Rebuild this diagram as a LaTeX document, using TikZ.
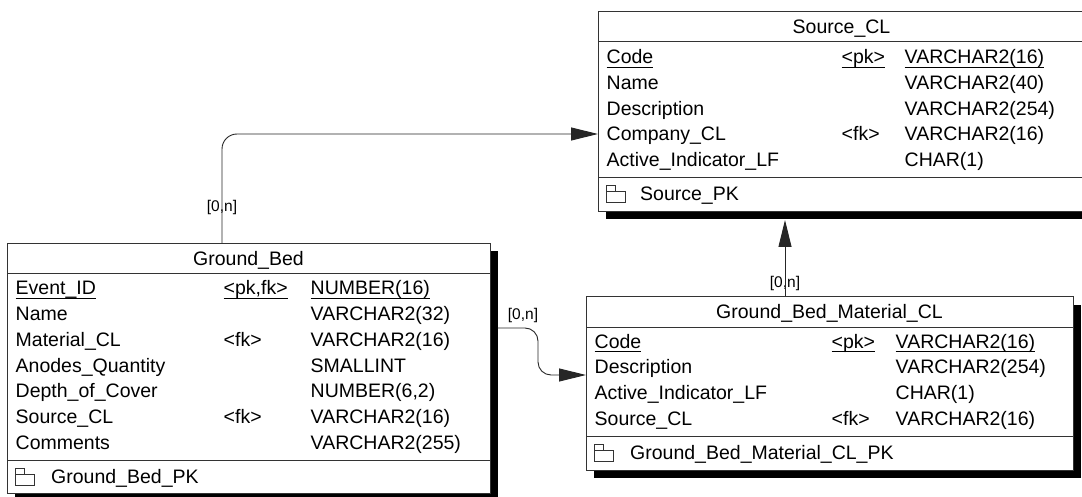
\documentclass[tikz,border=0pt]{standalone}
\usepackage{fontspec}
\setmainfont{Liberation Sans}
\usetikzlibrary{arrows.meta,shadows}
\newsavebox{\ulbox}
\newcommand{\uln}[1]{\sbox{\ulbox}{#1}\rlap{\rule[-4.2pt]{\wd\ulbox}{1.2pt}}\usebox{\ulbox}}
\newcommand{\erow}[5]{\makebox[#1][l]{#3}\makebox[#2][l]{#4}#5}

\begin{document}
\begin{tikzpicture}[x=1pt, y=-1pt,
    tablebox/.style={draw=black!80, line width=1pt, fill=white, rectangle, inner sep=0pt,
        anchor=north west, general shadow={fill=black, shadow xshift=7.5pt, shadow yshift=-8pt}},
    colhead/.style={inner sep=0pt, text height=14pt, text depth=0pt, font=\fontsize{19.5}{23}\selectfont},
    fld/.style={colhead, anchor=west},
    card/.style={inner sep=0pt, font=\fontsize{15.5}{18}\selectfont},
    divider/.style={draw=black!80, line width=1pt},
    keyicon/.style={draw=black!80, line width=0.9pt},
    fk/.style={draw=black!85, line width=0.9pt, -{Triangle[length=27pt, width=13pt]}}]

    \useasboundingbox (0,0) rectangle (1082,497);

    % 1. Bang Source_CL
    \node[tablebox, minimum width=487pt, minimum height=200pt] (src) at (598,11) {};
    \node[colhead] (src-title) at (841.5,27) {Source\_CL};
    \draw[divider] ([yshift=-31pt]src.north west) -- ([yshift=-31pt]src.north east);
    \node[fld] (src-1) at (606.5,57) {\erow{235pt}{63pt}{\uln{Code}}{\uln{<pk>}}{\uln{VARCHAR2(16)}}};
    \node[fld] (src-2) at (606.5,83) {\erow{235pt}{63pt}{Name}{}{VARCHAR2(40)}};
    \node[fld] (src-3) at (606.5,108.5) {\erow{235pt}{63pt}{Description}{}{VARCHAR2(254)}};
    \node[fld] (src-4) at (606.5,134) {\erow{235pt}{63pt}{Company\_CL}{<fk>}{VARCHAR2(16)}};
    \node[fld] (src-5) at (606.5,160) {\erow{235pt}{63pt}{Active\_Indicator\_LF}{}{CHAR(1)}};
    \draw[divider] ([yshift=-166.5pt]src.north west) -- ([yshift=-166.5pt]src.north east);
    \draw[keyicon] (606,191.5) rectangle (625,202.5) (606,185.5) rectangle (615,191.5);
    \node[fld] (src-pk) at (640,193.5) {Source\_PK};

    % 2. Bang Ground_Bed
    \node[tablebox, minimum width=483pt, minimum height=250pt] (gb) at (7,243) {};
    \node[colhead] (gb-title) at (248.5,258.5) {Ground\_Bed};
    \draw[divider] ([yshift=-31pt]gb.north west) -- ([yshift=-31pt]gb.north east);
    \node[fld] (gb-1) at (15.5,287.5) {\erow{208pt}{87pt}{\uln{Event\_ID}}{\uln{<pk,fk>}}{\uln{NUMBER(16)}}};
    \node[fld] (gb-2) at (15.5,313.3) {\erow{208pt}{87pt}{Name}{}{VARCHAR2(32)}};
    \node[fld] (gb-3) at (15.5,339) {\erow{208pt}{87pt}{Material\_CL}{<fk>}{VARCHAR2(16)}};
    \node[fld] (gb-4) at (15.5,365) {\erow{208pt}{87pt}{Anodes\_Quantity}{}{SMALLINT}};
    \node[fld] (gb-5) at (15.5,390.7) {\erow{208pt}{87pt}{Depth\_of\_Cover}{}{NUMBER(6,2)}};
    \node[fld] (gb-6) at (15.5,416.5) {\erow{208pt}{87pt}{Source\_CL}{<fk>}{VARCHAR2(16)}};
    \node[fld] (gb-7) at (15.5,442.3) {\erow{208pt}{87pt}{Comments}{}{VARCHAR2(255)}};
    \draw[divider] ([yshift=-217pt]gb.north west) -- ([yshift=-217pt]gb.north east);
    \draw[keyicon] (15,474.5) rectangle (34,485.5) (15,468.5) rectangle (24,474.5);
    \node[fld] (gb-pk) at (51,476.5) {Ground\_Bed\_PK};

    % 3. Bang Ground_Bed_Material_CL
    \node[tablebox, minimum width=487pt, minimum height=173.5pt] (gbm) at (586,296) {};
    \node[colhead] (gbm-title) at (829.5,311.5) {Ground\_Bed\_Material\_CL};
    \draw[divider] ([yshift=-31pt]gbm.north west) -- ([yshift=-31pt]gbm.north east);
    \node[fld] (gbm-1) at (594.5,341) {\erow{237pt}{64pt}{\uln{Code}}{\uln{<pk>}}{\uln{VARCHAR2(16)}}};
    \node[fld] (gbm-2) at (594.5,366.8) {\erow{237pt}{64pt}{Description}{}{VARCHAR2(254)}};
    \node[fld] (gbm-3) at (594.5,392.6) {\erow{237pt}{64pt}{Active\_Indicator\_LF}{}{CHAR(1)}};
    \node[fld] (gbm-4) at (594.5,418.4) {\erow{237pt}{64pt}{Source\_CL}{<fk>}{VARCHAR2(16)}};
    \draw[divider] ([yshift=-140.5pt]gbm.north west) -- ([yshift=-140.5pt]gbm.north east);
    \draw[keyicon] (594,450.5) rectangle (613,461.5) (594,444.5) rectangle (603,450.5);
    \node[fld] (gbm-pk) at (630,452.5) {Ground\_Bed\_Material\_CL\_PK};

    % 4. Ban so [0,n]
    \node[card] (card-src) at (222,207) {[0,n]};
    \node[card] (card-mat) at (785,283) {[0,n]};
    \node[card] (card-gbm) at (523,315) {[0,n]};

    % 5. Cac duong noi khoa ngoai
    \coordinate (src-foot) at (785,220);
    \coordinate (gb-side) at (497.5,328);
    \coordinate (gbm-side) at (586,375);
    \draw[fk, rounded corners=15pt] (gb.north -| card-src) |- (src.west |- src-4);
    \draw[fk] (gbm.north -| card-mat) -- (src-foot);
    \draw[fk, rounded corners=13pt] (gb-side) -- ++(40.5,0) |- (gbm-side);
\end{tikzpicture}
\end{document}
